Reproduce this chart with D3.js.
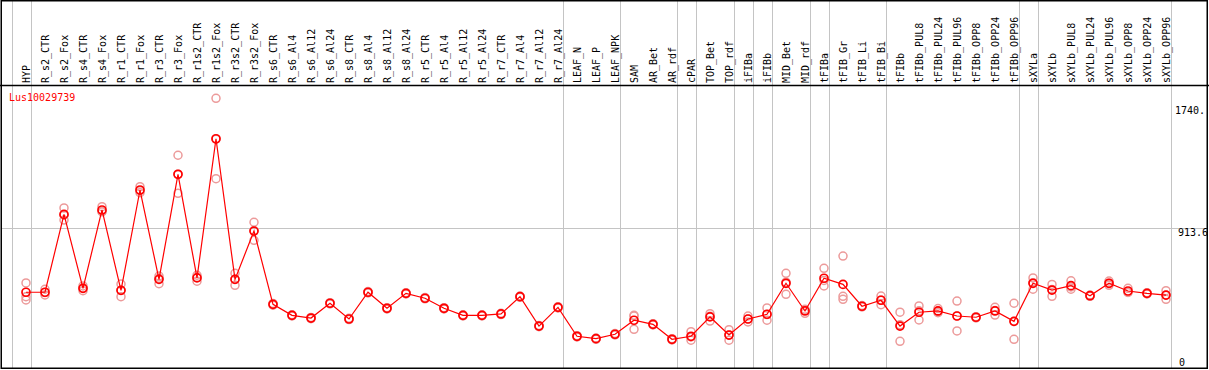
<!DOCTYPE html>
<html><head><meta charset="utf-8">
<script src="https://cdn.jsdelivr.net/npm/d3@7"></script>
<style>html,body{margin:0;padding:0;background:#fff;overflow:hidden}</style>
</head><body>
<script>
const categories = ["HYP","R_s2_CTR","R_s2_Fox","R_s4_CTR","R_s4_Fox","R_r1_CTR","R_r1_Fox","R_r3_CTR","R_r3_Fox","R_r1s2_CTR","R_r1s2_Fox","R_r3s2_CTR","R_r3s2_Fox","R_s6_CTR","R_s6_Al4","R_s6_Al12","R_s6_Al24","R_s8_CTR","R_s8_Al4","R_s8_Al12","R_s8_Al24","R_r5_CTR","R_r5_Al4","R_r5_Al12","R_r5_Al24","R_r7_CTR","R_r7_Al4","R_r7_Al12","R_r7_Al24","LEAF_N","LEAF_P","LEAF_NPK","SAM","AR_Bet","AR_rdf","cPAR","TOP_Bet","TOP_rdf","iFIBa","iFIBb","MID_Bet","MID_rdf","tFIBa","tFIB_Gr","tFIB_Li","tFIB_Bi","tFIBb","tFIBb_PUL8","tFIBb_PUL24","tFIBb_PUL96","tFIBb_OPP8","tFIBb_OPP24","tFIBb_OPP96","sXYLa","sXYLb","sXYLb_PUL8","sXYLb_PUL24","sXYLb_PUL96","sXYLb_OPP8","sXYLb_OPP24","sXYLb_OPP96"];
const meanValues = [507,507,1002,532,1030,519,1157,589,1257,598,1483,589,896,430,360,343,437,337,507,405,500,469,405,360,360,369,479,292,411,227,212,240,329,303,208,227,350,235,337,367,564,388,596,557,418,456,292,380,388,356,348,388,322,564,521,549,485,564,515,500,489];
const rep1 = [566,526,1043,547,1051,559,1178,610,1378,615,1740,627,952,436,364,347,441,341,511,409,504,473,409,364,364,373,483,296,415,231,216,244,360,307,212,256,371,269,356,407,627,399,659,737,422,483,380,420,403,451,352,411,437,598,557,580,489,578,532,504,517];
const rep2 = [479,490,966,517,1019,479,1140,561,1136,577,1229,551,837,425,356,339,433,333,503,401,496,465,401,356,356,365,475,288,407,223,208,236,271,299,204,202,324,202,318,329,494,373,547,481,414,428,195,331,377,261,344,362,208,526,481,526,481,551,507,496,462];
const rep3 = [458,505,997,532,1020,519,1153,596,1257,602,1480,589,899,430,360,343,437,337,507,405,500,469,405,360,360,369,479,292,411,227,212,240,356,303,208,223,354,235,337,365,571,392,582,462,418,457,301,389,384,356,348,391,321,568,525,541,485,564,506,500,488];
const groupEnds = [-1,0,28,31,34,35,37,38,39,41,42,45,52,53,60];
const tickValues = [0,913.6,1740];
const tickLabels = ["0","913.6","1740."];
const geneName = "Lus10029739";

const W = 1209, H = 370;
const svg = d3.select("body").append("svg").attr("width",W).attr("height",H)
  .style("display","block").style("font-family","'DejaVu Sans Mono', monospace").style("font-size","10px");
svg.append("rect").attr("width",W).attr("height",H).attr("fill","#fff");

const x = d3.scalePoint().domain(categories).range([26,1166]);
const step = x.step();
const y = d3.scaleLinear().domain([0,1740]).range([372,98.3]);
const xi = i => i < 0 ? x(categories[0]) - step : x(categories[i]);

// vertical separators
svg.append("g").selectAll("line").data(groupEnds).join("line")
  .attr("x1", d => Math.round(xi(d) + 4.5) + 0.5).attr("x2", d => Math.round(xi(d) + 4.5) + 0.5)
  .attr("y1",0).attr("y2",369).attr("stroke","#c4c4c4").attr("stroke-width",1);
// horizontal grid at middle tick
svg.append("line").attr("x1",1).attr("x2",1207).attr("y1",Math.round(y(913.6))+0.5).attr("y2",Math.round(y(913.6))+0.5)
  .attr("stroke","#c4c4c4").attr("stroke-width",1);

// header labels
svg.append("g").selectAll("text").data(categories).join("text")
  .attr("transform", d => `translate(${x(d)+4},83) rotate(-90)`)
  .attr("fill","#000").text(d => d);

// frame
svg.append("line").attr("x1",0).attr("x2",W).attr("y1",85.5).attr("y2",85.5).attr("stroke","#000").attr("stroke-width",1.5);
svg.append("rect").attr("x",1.25).attr("y",0.75).attr("width",1206).attr("height",367.5)
  .attr("fill","none").attr("stroke","#000").attr("stroke-width",1.5);

// replicate points
const reps = [];
categories.forEach((c,i) => { [rep1[i],rep2[i],rep3[i]].forEach(v => reps.push({c,v})); });
svg.append("g").selectAll("circle").data(reps).join("circle")
  .attr("cx", d => x(d.c)).attr("cy", d => y(d.v)).attr("r",4)
  .attr("fill","none").attr("stroke","#ec9a9a").attr("stroke-width",1.5);

// mean line
const means = categories.map((c,i) => ({c, v: meanValues[i]}));
svg.append("path").datum(means)
  .attr("d", d3.line().x(d => x(d.c)).y(d => y(d.v)))
  .attr("fill","none").attr("stroke","#ff0000").attr("stroke-width",1.2);
svg.append("g").selectAll("circle").data(means).join("circle")
  .attr("cx", d => x(d.c)).attr("cy", d => y(d.v)).attr("r",4)
  .attr("fill","none").attr("stroke","#ff0000").attr("stroke-width",1.7);

// y tick labels (right side)
const tickOffsets = [-6, 7.7, 15.7];
const tickX = [1179, 1178, 1175];
svg.append("g").selectAll("text").data(tickValues).join("text")
  .attr("x", (d,i) => tickX[i]).attr("y", (d,i) => y(d) + tickOffsets[i])
  .attr("fill","#000").text((d,i) => tickLabels[i]);

// gene label
svg.append("text").attr("x",9).attr("y",101).attr("fill","#ff0000").text(geneName);
</script>
</body></html>
